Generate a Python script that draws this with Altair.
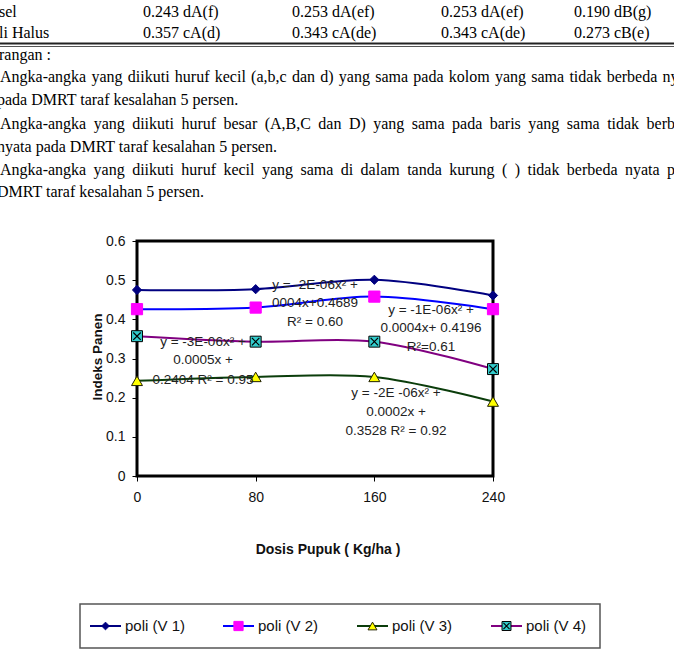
import altair as alt
import pandas as pd

# ---------------- data ----------------
dosis = [0, 80, 160, 240]
series_names = ["poli (V 1)", "poli (V 2)", "poli (V 3)", "poli (V 4)"]
v1 = [0.475, 0.477, 0.501, 0.461]
v2 = [0.426, 0.430, 0.458, 0.426]
v3 = [0.243, 0.253, 0.253, 0.190]
v4 = [0.357, 0.343, 0.343, 0.273]
x_tick_values = [0, 80, 160, 240]
y_tick_values = [0.0, 0.1, 0.2, 0.3, 0.4, 0.5, 0.6]
x_title = "Dosis Pupuk ( Kg/ha )"
y_title = "Indeks Panen"

eq_v1 = ["y = -2E-06x² +", "0004x+0.4689", "R² = 0.60"]
eq_v2 = ["y = -1E-06x² +", "0.0004x+ 0.4196", "R²=0.61"]
eq_v3 = ["y = -2E -06x² +", "0.0002x +", "0.3528 R² = 0.92"]
eq_v4 = ["y = -3E-06x² +", "0.0005x +", "0.2404 R² = 0.95"]

table_row_labels = ["sel", "li Halus"]
table_row1 = ["0.243 dA(f)", "0.253 dA(ef)", "0.253 dA(ef)", "0.190 dB(g)"]
table_row2 = ["0.357 cA(d)", "0.343 cA(de)", "0.343 cA(de)", "0.273 cB(e)"]
notes_heading = "rangan :"
note_lines = [
    "Angka-angka yang diikuti huruf kecil (a,b,c dan d) yang sama pada kolom yang sama tidak berbeda nyata",
    "pada DMRT taraf kesalahan 5 persen.",
    "Angka-angka yang diikuti huruf besar (A,B,C dan D) yang sama pada baris yang sama tidak berbeda",
    "nyata pada DMRT taraf kesalahan 5 persen.",
    "Angka-angka yang diikuti huruf kecil yang sama di dalam tanda kurung ( ) tidak berbeda nyata pada",
    "DMRT taraf kesalahan 5 persen.",
]

# ---------------- layout ----------------
PAGE_W, PAGE_H = 674, 666
L, T = 137, 241          # plot origin on the page
W, H = 356, 235          # plot size
SANS = "Liberation Sans"
SERIF = "Liberation Serif"
FS_DOC = 16

line_colors = ["#000080", "#0000FF", "#0B3D0B", "#800080"]


def px(x):
    return x - L


def py(y):
    return y - T


def text_layer(s, x, y, size, font=SANS, align="center", weight="normal",
               angle=0, baseline="middle", color="black"):
    props = dict(align=align, baseline=baseline, fontSize=size, font=font,
                 fontWeight=weight, color=color)
    if angle:
        props["angle"] = angle
    return alt.Chart(pd.DataFrame({"t": [s]})).mark_text(**props).encode(
        x=alt.value(px(x)), y=alt.value(py(y)), text="t:N")


def hrule(x1, x2, y, color="black", width=1.0):
    return alt.Chart(pd.DataFrame({"a": [0]})).mark_rule(
        color=color, strokeWidth=width).encode(
        x=alt.value(px(x1)), x2=alt.value(px(x2)), y=alt.value(py(y)))


TIMES = {' ': 250, '!': 333, '(': 333, ')': 333, ',': 250, '-': 333, '.': 250,
         ':': 278, 'A': 722, 'B': 667, 'C': 667, 'D': 722, 'E': 611, 'M': 889,
         'R': 667, 'T': 611, 'a': 444, 'b': 500, 'c': 444, 'd': 500, 'e': 444,
         'f': 333, 'g': 500, 'h': 500, 'i': 278, 'k': 500, 'l': 278, 'm': 778,
         'n': 500, 'o': 500, 'p': 500, 'r': 333, 's': 389, 't': 278, 'u': 500,
         'y': 500}


def tw(s, size=FS_DOC):
    return sum(TIMES.get(c, 500) for c in s) / 1000.0 * size


def word_layers(words, xs, y):
    return [text_layer(w, x, y, FS_DOC, font=SERIF, align="left")
            for w, x in zip(words, xs)]


def justify(line, x0, right):
    words = line.split(" ")
    gap = (right - x0 - sum(tw(w) for w in words)) / (len(words) - 1)
    xs, x = [], x0
    for w in words:
        xs.append(x)
        x += tw(w) + gap
    return words, xs


layers = []

# ---------------- document text above the chart ----------------
table_cols = [143, 292, 441, 574]
for yy, lab, row in [(12, table_row_labels[0], table_row1),
                     (33, table_row_labels[1], table_row2)]:
    layers.append(text_layer(lab, -1, yy, FS_DOC, font=SERIF, align="left"))
    for xx, s in zip(table_cols, row):
        layers.append(text_layer(s, xx, yy, FS_DOC, font=SERIF, align="left"))
layers.append(hrule(0, PAGE_W, 43.5, "#222222", 1.8))
layers.append(hrule(0, PAGE_W, 46.5, "#555555", 1.0))
layers.append(text_layer(notes_heading, -1, 55, FS_DOC, font=SERIF, align="left"))

# right margin of the justified paragraph, anchored on the visible end of "berb"
w3 = note_lines[2].split(" ")
start_last = PAGE_W - tw("berb") + 1
RIGHT = start_last + tw(w3[-1])

note_y = [77, 100, 124, 147, 170, 192]
for i, (line, yy) in enumerate(zip(note_lines, note_y)):
    if i % 2 == 0:
        words, xs = justify(line, 0, RIGHT)
        layers += word_layers(words, xs, yy)
    else:
        layers.append(text_layer(line, -3, yy, FS_DOC, font=SERIF, align="left"))

# ---------------- the chart ----------------
rows = []
for name, vals in zip(series_names, [v1, v2, v3, v4]):
    for d, v in zip(dosis, vals):
        rows.append({"series": name, "dosis": d, "value": v})
df = pd.DataFrame(rows)

x_enc = alt.X("dosis:Q", scale=alt.Scale(domain=[0, 240], nice=False, zero=False),
              axis=alt.Axis(values=x_tick_values, title=None, grid=False, domain=False,
                            tickColor="black", tickSize=5, tickWidth=1,
                            labelFontSize=14, labelFont=SANS, labelColor="#111111",
                            labelPadding=9, labelFlush=False, labelOverlap=False,
                            format="d"))
y_enc = alt.Y("value:Q", scale=alt.Scale(domain=[0, 0.6], nice=False),
              axis=alt.Axis(values=y_tick_values, title=None, grid=False, domain=False,
                            tickColor="black", tickSize=5, tickWidth=1,
                            labelFontSize=14, labelFont=SANS, labelColor="#111111",
                            labelPadding=7, labelFlush=False, labelOverlap=False,
                            format=".1~f"))

base = alt.Chart(df)
lines = base.mark_line(interpolate="catmull-rom", strokeWidth=2).encode(
    x=x_enc, y=y_enc,
    color=alt.Color("series:N", scale=alt.Scale(domain=series_names, range=line_colors),
                    legend=None))
layers.append(lines)

marker_styles = [
    dict(shape="diamond", size=85, fill="#000080", stroke="#000080", strokeWidth=1),
    dict(shape="square", size=125, fill="#FF00FF", stroke="#FF00FF", strokeWidth=1),
    dict(shape="triangle-up", size=120, fill="#FFFF00", stroke="#222200", strokeWidth=1),
    dict(shape="square", size=120, fill="#33CCCC", stroke="#000000", strokeWidth=1),
]
for name, st in zip(series_names, marker_styles):
    layers.append(base.transform_filter(alt.datum.series == name).mark_point(
        filled=True, opacity=1, **st).encode(x=x_enc, y=y_enc))
layers.append(base.transform_filter(alt.datum.series == series_names[3]).mark_point(
    shape="M-1,-1L1,1M-1,1L1,-1", filled=False, size=55, stroke="black",
    strokeWidth=1.2, opacity=1).encode(x=x_enc, y=y_enc))

# equation labels
FS_EQ = 13.5
for eq, cx, ys in [(eq_v1, 315, [285, 303, 322]),
                   (eq_v2, 431, [310, 328, 347]),
                   (eq_v4, 203, [342, 360, 380]),
                   (eq_v3, 396, [393, 412, 431])]:
    for s, yy in zip(eq, ys):
        layers.append(text_layer(s, cx, yy, FS_EQ, color="#222222"))

# axis titles
layers.append(text_layer(x_title, 328, 550, 14, weight="bold", color="#111111"))
layers.append(text_layer(y_title, 98, 357, 13.5, weight="bold", angle=270,
                         color="#111111"))

# ---------------- legend ----------------
layers.append(alt.Chart(pd.DataFrame({"a": [0]})).mark_rect(
    fill="white", stroke="#555555", strokeWidth=1.5).encode(
    x=alt.value(px(80)), x2=alt.value(px(600)),
    y=alt.value(py(604)), y2=alt.value(py(648))))
leg_x = [90, 223, 357, 491]
leg_y = 626
leg_sizes = [60, 85, 80, 80]
for name, col, st, lx, sz in zip(series_names, line_colors, marker_styles, leg_x, leg_sizes):
    layers.append(hrule(lx, lx + 31, leg_y, col, 2))
    st2 = dict(st)
    st2["size"] = sz
    layers.append(alt.Chart(pd.DataFrame({"a": [0]})).mark_point(
        filled=True, opacity=1, **st2).encode(
        x=alt.value(px(lx + 15.5)), y=alt.value(py(leg_y))))
    if name == series_names[3]:
        layers.append(alt.Chart(pd.DataFrame({"a": [0]})).mark_point(
            shape="M-1,-1L1,1M-1,1L1,-1", filled=False, size=38, stroke="black",
            strokeWidth=1.1, opacity=1).encode(
            x=alt.value(px(lx + 15.5)), y=alt.value(py(leg_y))))
    layers.append(text_layer(name, lx + 35, leg_y, 15, align="left", color="#111111"))

chart = alt.layer(*layers).properties(
    width=W, height=H,
    padding={"left": L, "top": T, "right": PAGE_W - L - W, "bottom": PAGE_H - T - H},
    autosize=alt.AutoSizeParams(type="none"),
    background="white",
).configure_view(stroke="black", strokeWidth=3)

chart.save("out.html", embed_options={"renderer": "svg", "actions": False})
